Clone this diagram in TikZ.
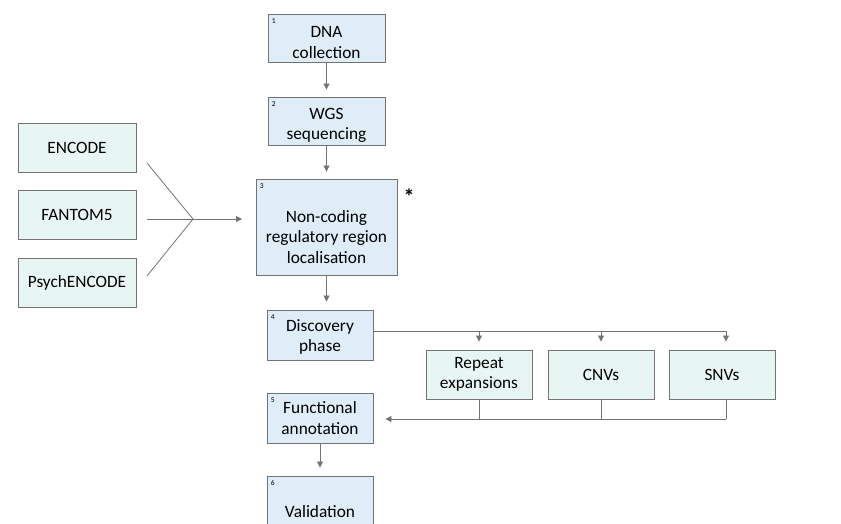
\documentclass[tikz,border=0pt]{standalone}
\usepackage{fontspec}
\setmainfont{Carlito}
\usepackage{tikz}
\usetikzlibrary{arrows.meta, positioning, calc}

\definecolor{stepfill}{RGB}{222,237,248}
\definecolor{srcfill}{RGB}{232,246,243}
\definecolor{edgegray}{RGB}{115,115,115}

% invisible strut that pushes the first line of a box down
\newcommand{\topgap}[1]{\rule{0pt}{#1}}

\tikzset{
  stepbox/.style={draw=edgegray, fill=stepfill, line width=0.9pt, align=center,
    font=\fontsize{17.3}{20.5}\selectfont, minimum width=106pt, minimum height=50pt, inner sep=2pt},
  srcbox/.style={draw=edgegray, fill=srcfill, line width=0.9pt, align=center,
    font=\fontsize{17.3}{20.5}\selectfont, minimum width=118pt, minimum height=49pt, inner sep=2pt},
  varbox/.style={srcbox, minimum width=106pt},
  num/.style={anchor=north west, font=\fontsize{7.5}{8}\selectfont, inner xsep=4pt, inner ysep=5pt},
  flow/.style={draw=edgegray, line width=0.8pt},
  arr/.style={flow, -{Triangle[width=6pt,length=6pt]}}
}

\begin{document}
\begin{tikzpicture}[x=1pt, y=-1pt]
\useasboundingbox (0,0) rectangle (841,523);

% main pipeline
\node[stepbox, minimum width=117pt, minimum height=48pt,
  label={[num]north west:1}] (dna) at (326.5,38) {\topgap{20pt}DNA\\collection};
\node[stepbox, minimum width=117pt, minimum height=48pt,
  label={[num]north west:2}] (wgs) at (326.5,121) {\topgap{20pt}WGS\\sequencing};
\node[stepbox, minimum width=141pt, minimum height=96pt,
  label={[num]north west:3}] (ncr) at (326.5,227) {\topgap{32pt}Non-coding\\regulatory region\\localisation};
\node[font=\bfseries\fontsize{22}{22}\selectfont] (star) at (409,197) {*};
\node[stepbox, label={[num]north west:4}] (disc) at (320,335) {\topgap{16pt}Discovery\\phase};
\node[stepbox, label={[num]north west:5}] (func) at (320,418) {Functional\\annotation};
\node[stepbox, minimum height=60pt, label={[num]north west:6}] (valid) at (320,506) {\topgap{24pt}Validation};

% annotation sources
\node[srcbox] (encode) at (77,147.5) {ENCODE};
\node[srcbox] (fantom) at (77,214.5) {FANTOM5};
\node[srcbox] (psych) at (77,282.5) {PsychENCODE};

% variant classes
\node[varbox] (rep) at (479,374.5) {Repeat\\expansions};
\node[varbox] (cnv) at (601,374.5) {CNVs};
\node[varbox] (snv) at (722,374.5) {SNVs};

\draw[arr, shorten >=7pt] (dna) -- (wgs);
\draw[arr, shorten >=7pt] (wgs) -- (ncr);
\draw[arr, shorten >=8pt] (ncr.south) -- (ncr.south |- disc.north);
\draw[arr, shorten >=8pt] (func) -- (valid);

% sources merge into step 3
\coordinate (join) at (193,219);
\coordinate (e1) at (147,163);
\coordinate (e2) at (147,219);
\coordinate (e3) at (147,276);
\draw[flow] (e1) -- (join);
\draw[flow] (e2) -- (join);
\draw[flow] (e3) -- (join);
\draw[arr] (join) -- (242,219);

% discovery fans out
\coordinate (split) at (726,331);
\draw[flow] (disc.east |- split) -- (split);
\draw[arr, shorten >=8pt] (rep.north |- split) -- (rep.north);
\draw[arr, shorten >=8pt] (cnv.north |- split) -- (cnv.north);
\draw[arr, shorten >=8pt] (split) -- (split |- snv.north);

% variants collect into step 5
\coordinate (gather) at (726,419);
\draw[flow] (rep.south) -- (rep.south |- gather);
\draw[flow] (cnv.south) -- (cnv.south |- gather);
\draw[flow] (gather |- snv.south) -- (gather);
\draw[arr, shorten >=12pt] (gather) -- (func.east |- gather);
\end{tikzpicture}
\end{document}
